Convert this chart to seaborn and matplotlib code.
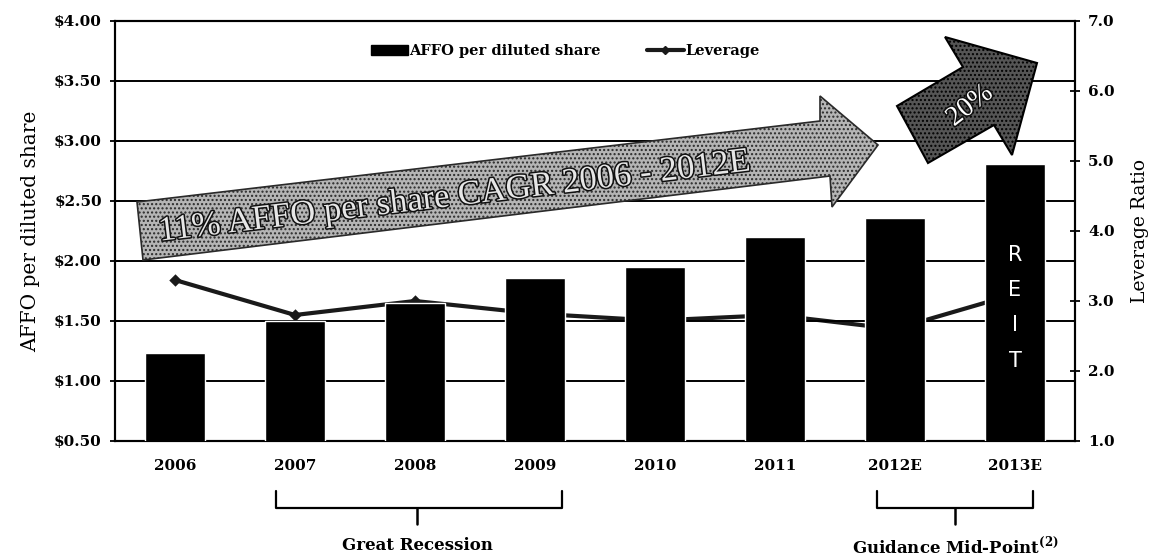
import numpy as np
import matplotlib
matplotlib.use("Agg")
import matplotlib.pyplot as plt
import matplotlib.transforms as mtransforms
import matplotlib.patheffects as pe
from matplotlib.patches import Patch, Polygon
from matplotlib.lines import Line2D
from matplotlib.ticker import StrMethodFormatter, MultipleLocator
import seaborn as sns

# Chart data
years = ["2006", "2007", "2008", "2009", "2010", "2011", "2012E", "2013E"]
affo_per_share = [1.23, 1.50, 1.65, 1.86, 1.95, 2.20, 2.36, 2.81]
leverage = [3.3, 2.8, 3.0, 2.82, 2.72, 2.8, 2.6, 3.1]

affo_label = "AFFO per diluted share"
leverage_label = "Leverage"
cagr_text = "11% AFFO per share CAGR 2006 - 2012E"
jump_text = "20%"
reit_text = "R\nE\nI\nT"
recession_text = "Great Recession"
guidance_text = r"Guidance Mid-Point$^{\mathbf{(2)}}$"

sns.set_style("white")
plt.rcParams["font.family"] = ["DejaVu Serif", "Liberation Serif"]
plt.rcParams["mathtext.fontset"] = "custom"
plt.rcParams["mathtext.rm"] = "DejaVu Serif"
plt.rcParams["mathtext.bf"] = "DejaVu Serif:bold"
for key in ("text.color", "axes.labelcolor", "xtick.color", "ytick.color"):
    plt.rcParams[key] = "black"

W, H = 1165, 559
fig = plt.figure(figsize=(W / 100, H / 100), dpi=100)
fig.subplots_adjust(left=115 / W, right=1075 / W, top=1 - 21 / H, bottom=1 - 441 / H)
ax = fig.add_subplot(111)
ax2 = ax.twinx()

# Bars on the left axis
sns.barplot(x=years, y=affo_per_share, color="black", width=0.5, saturation=1,
            ax=ax, zorder=3)
# Leverage line on the right axis (drawn behind the bars)
sns.pointplot(x=years, y=leverage, ax=ax2, color="#1a1a1a", markers="D",
              markersize=4, linewidth=3)

ax.set_zorder(ax2.get_zorder() + 1)
ax.patch.set_visible(False)

ax.set_xlim(-0.5, 7.5)
ax2.set_xlim(-0.5, 7.5)
ax.set_ylim(0.5, 4.0)
ax2.set_ylim(1.0, 7.0)

ax.yaxis.set_major_locator(MultipleLocator(0.5))
ax.yaxis.set_major_formatter(StrMethodFormatter("${x:.2f}"))
ax2.yaxis.set_major_locator(MultipleLocator(1.0))
ax2.yaxis.set_major_formatter(StrMethodFormatter("{x:.1f}"))

ax.grid(axis="y", color="black", linewidth=1.4)
ax.set_axisbelow(True)
ax2.grid(False)

for a in (ax, ax2):
    for s in a.spines.values():
        s.set_visible(True)
        s.set_color("black")
        s.set_linewidth(1.5)

ax.set_xticks(range(len(years)))
ax.set_xticklabels(years)
ax.set_xticks(np.arange(-0.5, len(years), 1.0), minor=True)
ax.tick_params(axis="x", which="major", length=0, pad=13, labelsize=11)
ax.tick_params(axis="x", which="minor", length=6, width=1.5, direction="out")
for lbl in ax.get_xticklabels():
    lbl.set_fontweight("bold")

ax.tick_params(axis="y", which="major", length=7, width=1.3, direction="inout",
               pad=6, labelsize=11)
ax2.tick_params(axis="y", which="major", length=7, width=1.3, direction="inout",
                pad=6, labelsize=11)
for lbl in ax.get_yticklabels() + ax2.get_yticklabels():
    lbl.set_fontweight("bold")

ax.set_xlabel("")
ax2.set_xlabel("")
ax.set_ylabel(affo_label, fontsize=14.5, labelpad=10)
ax2.set_ylabel("Leverage Ratio", fontsize=13.5, labelpad=12)

# Legend
handles = [Patch(facecolor="black", edgecolor="black"),
           Line2D([0], [0], color="#1a1a1a", lw=3, marker="D", markersize=4)]
ax.legend(handles, [affo_label, leverage_label], loc="center",
          bbox_to_anchor=(0.469, 0.929), ncol=2, frameon=False,
          prop={"weight": "bold", "size": 10.5}, handlelength=2.5,
          handletextpad=0.1, columnspacing=3.2)

# REIT letters inside the 2013E bar
ax.text(7, 1.61, reit_text, color="white", ha="center", va="center",
        fontsize=15, family="DejaVu Sans", linespacing=1.95, zorder=5)

# Brackets under the x axis
trans = mtransforms.blended_transform_factory(ax.transData, ax.transAxes)


def bracket(x0, x1, xm, label):
    y_top, y_mid, y_stem = -0.119, -0.160, -0.198
    ax.plot([x0, x0, x1, x1], [y_top, y_mid, y_mid, y_top], color="black",
            lw=1.6, transform=trans, clip_on=False)
    ax.plot([xm, xm], [y_mid, y_stem], color="black", lw=1.8,
            transform=trans, clip_on=False)
    ax.text(xm, -0.250, label, transform=trans, ha="center", va="center",
            fontsize=12, fontweight="bold")


bracket(0.84, 3.225, 2.02, recession_text)
bracket(5.85, 7.15, 6.5, guidance_text)


# Decorative arrows in figure pixel coordinates
def px(pts):
    return [(x / W, 1 - y / H) for x, y in pts]


cagr_arrow = [(137, 202), (820, 121), (820, 96), (878, 145), (832, 207),
              (830, 176), (143, 260)]
fig.add_artist(Polygon(px(cagr_arrow), closed=True, transform=fig.transFigure,
                       facecolor="#b5b5b5", edgecolor="#2a2a2a", lw=1.2,
                       hatch="....", zorder=6))
fig.text(455 / W, 1 - 197 / H, cagr_text, rotation=6.8, rotation_mode="anchor",
         ha="center", va="center", fontsize=25, family="Liberation Serif",
         color="#e6e6e6", zorder=7,
         path_effects=[pe.withStroke(linewidth=2.2, foreground="#111111")])

jump_arrow = [(897, 106), (963, 67), (945, 37), (1037, 63), (1012, 155),
              (994, 125), (928, 163)]
fig.add_artist(Polygon(px(jump_arrow), closed=True, transform=fig.transFigure,
                       facecolor="#555555", edgecolor="black", lw=1.5,
                       hatch="....", zorder=6))
fig.text(970 / W, 1 - 106 / H, jump_text, rotation=38, rotation_mode="anchor",
         ha="center", va="center", fontsize=20, family="Liberation Serif",
         color="white", zorder=7,
         path_effects=[pe.withStroke(linewidth=2.2, foreground="#111111")])

fig.savefig("out.png", dpi=100)
